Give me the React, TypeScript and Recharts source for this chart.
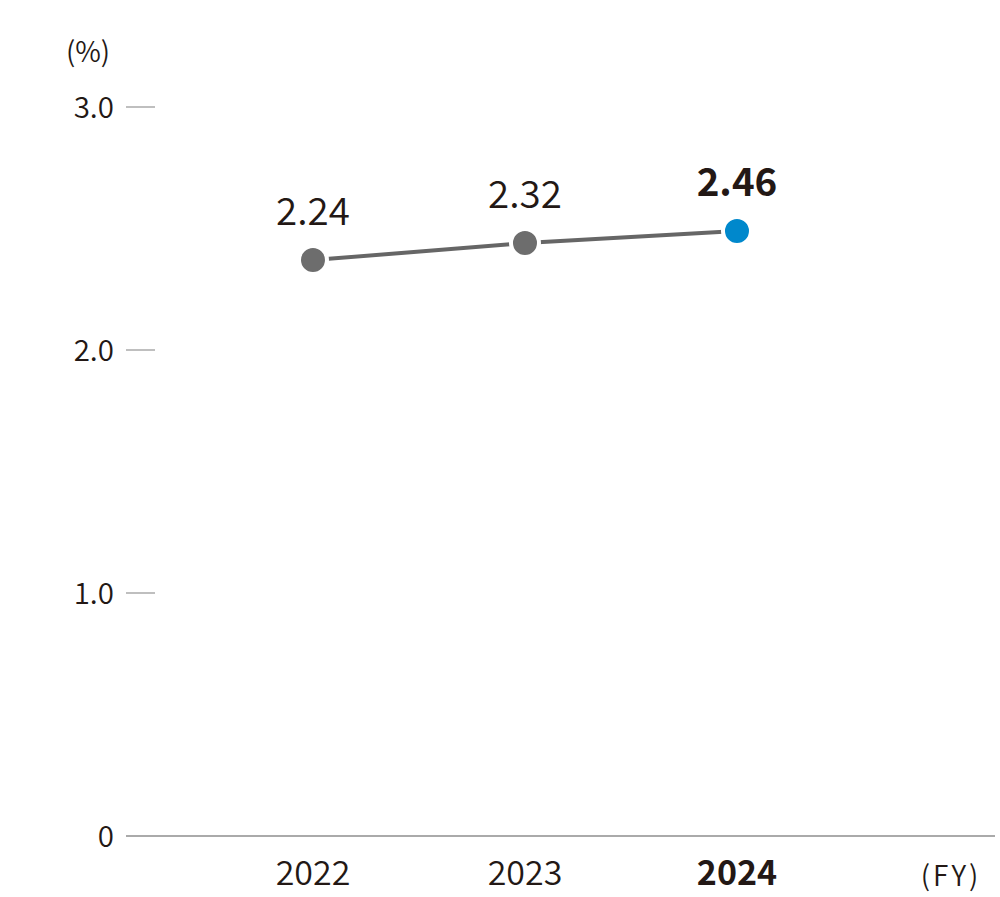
import React from "react";
import { LineChart, Line, XAxis, YAxis, LabelList } from "recharts";

const years = ["2022", "2023", "2024"];
const plotted = [2.37, 2.44, 2.49];
const valueLabels = ["2.24", "2.32", "2.46"];
const yTicks = [0, 1, 2, 3];

const data = years.map((y, i) => ({ idx: i, year: y, v: plotted[i], label: valueLabels[i] }));

const FONT = "'Noto Sans CJK JP', 'Noto Sans', sans-serif";
const TEXT = "#231815";
const LAST = years.length - 1;
const W = 350;

const XTick = (p: any) => {
  const i = p.payload.value;
  return (
    <text x={p.x} y={p.y + 41} textAnchor="middle" fontSize={34} fontFamily={FONT}
      fontWeight={i === LAST ? 700 : W} fill={TEXT}>
      {years[i]}
    </text>
  );
};

const YTick = (p: any) => {
  const v = p.payload.value;
  return (
    <g>
      {v !== 0 && <line x1={p.x} x2={p.x + 29} y1={p.y} y2={p.y} stroke="#aaaaaa" strokeWidth={1.5} />}
      <text x={p.x - 12} y={p.y + 10.5} textAnchor="end" fontSize={29.5} fontFamily={FONT} fontWeight={W} fill={TEXT}>
        {v === 0 ? "0" : v.toFixed(1)}
      </text>
    </g>
  );
};

const Dot = (p: any) => {
  if (p.cx == null) return null;
  return (
    <circle cx={p.cx} cy={p.cy} r={14} fill={p.index === LAST ? "#0088cc" : "#6d6d6d"}
      stroke="#ffffff" strokeWidth={4} />
  );
};

const ValueLabel = (p: any) => (
  <text x={p.x} y={p.y - 35} textAnchor="middle" fontSize={38.5} fontFamily={FONT}
    fontWeight={p.index === LAST ? 700 : W} fill={TEXT}>
    {valueLabels[p.index]}
  </text>
);

export default function App() {
  return (
    <div style={{ position: "absolute", left: 0, top: 0, width: 1000, height: 897, background: "#fff" }}>
      <LineChart width={1000} height={897} data={data} margin={{ top: 107, right: 5, bottom: 0, left: 0 }}>
        <XAxis dataKey="idx" type="number" domain={[-0.882, 3.217]} ticks={[0, 1, 2]} allowDataOverflow
          height={61} axisLine={{ stroke: "#aaaaaa", strokeWidth: 2 }} tickLine={false} tick={<XTick />} interval={0} />
        <YAxis type="number" domain={[0, 3]} ticks={yTicks} width={126} axisLine={false} tickLine={false}
          tickSize={0} tickMargin={0} tick={<YTick />} interval={0} />
        <Line dataKey="v" stroke="#666666" strokeWidth={4} isAnimationActive={false} dot={<Dot />} activeDot={false}>
          <LabelList dataKey="label" content={<ValueLabel />} />
        </Line>
      </LineChart>
      <div style={{ position: "absolute", left: 0, top: 0, width: 1000, height: 897, pointerEvents: "none" }}>
        <svg width={1000} height={897} style={{ position: "absolute", left: 0, top: 0 }}>
          <text x={88} y={62} textAnchor="middle" fontSize={28} fontFamily={FONT} fontWeight={W} fill={TEXT}>(%)</text>
          <text x={951} y={886} textAnchor="middle" fontSize={28} fontFamily={FONT} fontWeight={W} fill={TEXT} letterSpacing={3}>(FY)</text>
        </svg>
      </div>
    </div>
  );
}
